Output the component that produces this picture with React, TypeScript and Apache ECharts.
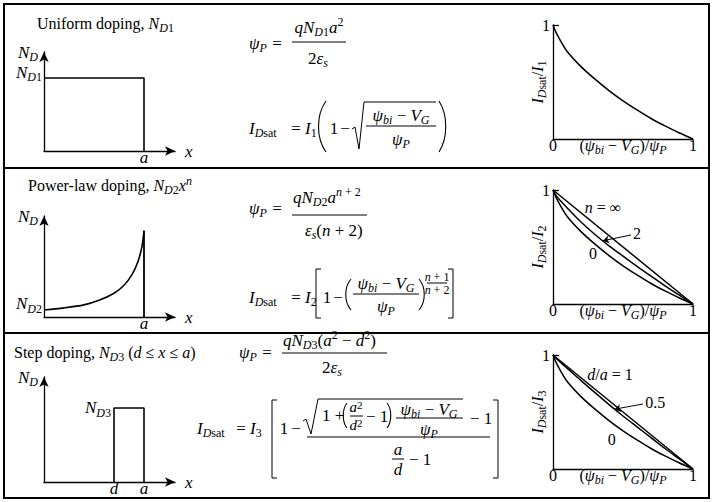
import React, { useEffect, useRef } from 'react';
import * as echarts from 'echarts';

const FF = '"Liberation Serif", "Times New Roman", Times, serif';

// ---------- doping-profile sketches (x in units of a, y relative to axis height) ----------
const uniformProfileX = [0, 1, 1];
const uniformProfileY = [0.737, 0.737, 0];
const powerProfileX = [0, 0.2, 0.4, 0.55, 0.7, 0.8, 0.88, 0.94, 0.98, 1];
const powerProfileY = [0.07, 0.09, 0.12, 0.165, 0.235, 0.315, 0.42, 0.55, 0.7, 0.855];
const powerEdgeX = [1, 1];
const powerEdgeY = [0.855, 0];
const stepProfileX = [0.7, 0.7, 1, 1];
const stepProfileY = [0, 0.705, 0.705, 0];

// ---------- normalized saturation-current curves ----------
const uRatio = [0, 0.02, 0.05, 0.1, 0.2, 0.3, 0.4, 0.5, 0.6, 0.7, 0.8, 0.9, 1];
const iUniform = [1, 0.94, 0.87, 0.77, 0.635, 0.525, 0.425, 0.335, 0.255, 0.18, 0.115, 0.055, 0];
const iPowerN2 = [1, 0.955, 0.91, 0.845, 0.72, 0.61, 0.51, 0.42, 0.33, 0.245, 0.16, 0.08, 0];
const iStepHalf = [1, 0.975, 0.94, 0.885, 0.775, 0.67, 0.565, 0.465, 0.37, 0.275, 0.18, 0.09, 0];
const linearU = [0, 1];
const linearI = [1, 0];

const zip = (xs: number[], ys: number[]) => xs.map((x, k) => [x, ys[k]]);

function richSet(F: number, useFill = false, Lh?: number) {
  const S = Math.round(F * 0.72);
  const L = Lh ?? F + 5;
  const col: any = useFill ? { fill: '#000' } : { color: '#000' };
  const base = { ...col, fontFamily: FF };
  return {
    r: { ...base, fontSize: F, lineHeight: L },
    i: { ...base, fontSize: F, fontStyle: 'italic', lineHeight: L },
    sr: { ...base, fontSize: S, lineHeight: S, verticalAlign: 'bottom' },
    si: { ...base, fontSize: S, fontStyle: 'italic', lineHeight: S, verticalAlign: 'bottom' },
    pr: { ...base, fontSize: S, lineHeight: S, verticalAlign: 'top' },
    pi: { ...base, fontSize: S, fontStyle: 'italic', lineHeight: S, verticalAlign: 'top' },
  };
}

function T(x: number, y: number, text: string, F = 17, align: string = 'left', Lh?: number) {
  return {
    type: 'text', x, y, silent: true,
    style: {
      text, rich: richSet(F, true, Lh), fill: '#000', fontFamily: FF, fontSize: F,
      align, verticalAlign: 'middle', textAlign: align, textVerticalAlign: 'middle',
    },
  };
}
function L(x1: number, y1: number, x2: number, y2: number, w = 1) {
  return { type: 'line', silent: true, shape: { x1, y1, x2, y2 }, style: { stroke: '#000', lineWidth: w } };
}
function P(points: number[][], w = 1) {
  return { type: 'polyline', silent: true, shape: { points }, style: { stroke: '#000', lineWidth: w, fill: 'none' } };
}
function B(x1: number, y1: number, cpx1: number, cpy1: number, cpx2: number, cpy2: number, x2: number, y2: number, w = 1.1) {
  return { type: 'bezierCurve', silent: true, shape: { x1, y1, cpx1, cpy1, cpx2, cpy2, x2, y2 }, style: { stroke: '#000', lineWidth: w, fill: 'none' } };
}

const PSI_NUM = '{i|ψ}{si|bi}{r| − }{i|V}{si|G}';
const PSI_P = '{i|ψ}{si|P}';
const IDSAT = '{i|I}{si|D}{sr|sat}';

const graphics: any[] = [
  // table frame
  { type: 'rect', silent: true, shape: { x: 4, y: 4, width: 705, height: 494 }, style: { stroke: '#000', lineWidth: 2, fill: 'none' } },
  L(4, 168, 709, 168, 2),
  L(4, 333, 709, 333, 2),
  // titles
  T(37, 23, '{r|Uniform doping, }{i|N}{si|D}{sr|1}', 16),
  T(28, 185, '{r|Power-law doping, }{i|N}{si|D}{sr|2}{i|x}{pi|n}', 16),
  T(14, 352, '{r|Step doping, }{i|N}{si|D}{sr|3}{r| (}{i|d}{r| ≤ }{i|x}{r| ≤ }{i|a}{r|)}', 16),

  // ----- row 1 equations -----
  T(249, 43, PSI_P),
  T(277, 43, '{r|=}', 17, 'center'),
  T(319, 27, '{i|qN}{si|D}{sr|1}{i|a}{pr|2}', 17, 'center'),
  L(292, 42, 346, 42),
  T(318, 58, '{r|2}{i|ε}{si|s}', 17, 'center'),
  T(249, 128, IDSAT),
  T(296, 128, '{r|=}', 17, 'center'),
  T(305, 128, '{i|I}{sr|1}'),
  B(326, 101, 316, 115, 316, 138, 326, 152),
  T(334, 128, '{r|1}', 17, 'center'),
  T(345, 128, '{r|−}', 17, 'center'),
  P([[352, 129], [355, 127], [359, 149], [364, 102], [436, 102]]),
  T(401, 115, PSI_NUM, 17, 'center'),
  L(366, 126, 436, 126),
  T(401, 139, PSI_P, 17, 'center'),
  B(439, 101, 448, 115, 448, 138, 439, 152),

  // ----- row 2 equations -----
  T(249, 208, PSI_P),
  T(277, 208, '{r|=}', 17, 'center'),
  T(293, 197, '{i|qN}{si|D}{sr|2}{i|a}{pi|n}{pr| + 2}'),
  L(292, 215, 367, 215),
  T(305, 230, '{i|ε}{si|s}{r|(}{i|n}{r| + 2)}'),
  T(249, 297, IDSAT),
  T(296, 297, '{r|=}', 17, 'center'),
  T(305, 297, '{i|I}{sr|2}'),
  P([[321, 269], [316, 269], [316, 318], [321, 318]]),
  T(327, 297, '{r|1}', 17, 'center'),
  T(338, 297, '{r|−}', 17, 'center'),
  B(351, 279, 344, 287, 344, 302, 351, 310),
  T(386, 283, PSI_NUM, 17, 'center'),
  L(353, 294, 419, 294),
  T(386, 306, PSI_P, 17, 'center'),
  B(419, 279, 426, 287, 426, 302, 419, 310),
  T(437, 277, '{i|n}{r| + 1}', 12, 'center', 12),
  L(427, 283, 447, 283),
  T(437, 290, '{i|n}{r| + 2}', 12, 'center', 12),
  P([[448, 269], [453, 269], [453, 318], [448, 318]]),

  // ----- row 3 equations -----
  T(239, 352, PSI_P),
  T(267, 352, '{r|=}', 17, 'center'),
  T(283, 340, '{i|qN}{si|D}{sr|3}{r|(}{i|a}{pr|2}{r| − }{i|d}{pr|2}{r|)}'),
  L(282, 353, 387, 353),
  T(322, 367, '{r|2}{i|ε}{si|s}'),
  T(197, 428, IDSAT),
  T(241, 428, '{r|=}', 17, 'center'),
  T(250, 428, '{i|I}{sr|3}'),
  P([[277, 400], [272, 400], [272, 478], [277, 478]]),
  T(284, 428, '{r|1}', 17, 'center'),
  T(296, 428, '{r|−}', 17, 'center'),
  P([[303, 421], [306, 419], [311, 434], [318, 399], [463, 399]]),
  T(322, 415, '{r|1 +}'),
  B(347, 403, 342, 409, 342, 422, 347, 428),
  T(356, 407, '{i|a}{pr|2}', 15, 'center', 16),
  L(350, 416, 363, 416),
  T(356, 425, '{i|d}{pr|2}', 15, 'center', 16),
  T(366, 416, '{r|− 1}'),
  B(387, 403, 392, 409, 392, 422, 387, 428),
  T(429, 409, PSI_NUM, 17, 'center'),
  L(396, 418, 463, 418),
  T(429, 429, PSI_P, 17, 'center'),
  T(470, 418, '{r|− 1}'),
  L(307, 437, 490, 437),
  T(398, 449, '{i|a}', 17, 'center', 17),
  L(392, 459, 404, 459),
  T(398, 469, '{i|d}', 17, 'center', 17),
  T(409, 459, '{r|− 1}'),
  P([[493, 400], [498, 400], [498, 478], [493, 478]]),
];

const R16 = richSet(16);
const R16s = richSet(16, false, 12);
const R17 = richSet(17);
const R17s = richSet(17, false, 12);

const sketchGrids = [
  { left: 44, top: 52, width: 131, height: 99 },
  { left: 44, top: 216, width: 131, height: 101 },
  { left: 44, top: 377, width: 131, height: 105 },
];
const plotGrids = [
  { left: 553, top: 25, width: 140, height: 114 },
  { left: 553, top: 190, width: 140, height: 114 },
  { left: 553, top: 355, width: 140, height: 114 },
];

const axisLineArrow = { show: true, onZero: false, symbol: ['none', 'arrow'], symbolSize: [7, 10], lineStyle: { color: '#000', width: 1.3 } };

function sketchX(gi: number, vals: number[], names: string[]) {
  return {
    type: 'value', gridIndex: gi, min: 0, max: 1.31,
    axisLine: axisLineArrow, axisTick: { show: false }, splitLine: { show: false },
    axisLabel: { show: true, customValues: vals, formatter: (v: number) => `{i|${names[vals.indexOf(v)] ?? ''}}`, rich: R17s, margin: 0 },
    name: 'x', nameLocation: 'end', nameGap: 10, nameMoveOverlap: false,
    nameTextStyle: { fontFamily: FF, fontStyle: 'italic', fontSize: 17, color: '#000', align: 'left', verticalAlign: 'middle' },
  };
}
function sketchY(gi: number, vals: number[], label: string) {
  return {
    type: 'value', gridIndex: gi, min: 0, max: 1,
    axisLine: axisLineArrow, axisTick: { show: false }, splitLine: { show: false },
    axisLabel: { show: vals.length > 0, customValues: vals, formatter: () => label, rich: R17, margin: 2, padding: [0, 0, 12, 0] },
    name: '{i|N}{si|D}', nameLocation: 'end', nameGap: 0, nameMoveOverlap: false,
    nameTextStyle: { rich: R17, align: 'right', verticalAlign: 'middle', padding: [0, 6, 0, 0] },
  };
}
function plotX(gi: number) {
  return {
    type: 'value', gridIndex: gi, min: 0, max: 1,
    axisLine: { show: true, onZero: false, lineStyle: { color: '#000', width: 1.3 } },
    axisTick: { show: false }, splitLine: { show: false },
    axisLabel: { show: true, customValues: [0, 1], formatter: (v: number) => `{r|${v}}`, rich: R16s, margin: 0 },
    name: '{r|(}' + PSI_NUM + '{r|)/}' + PSI_P, nameLocation: 'middle', nameGap: -4, nameMoveOverlap: false,
    nameTextStyle: { rich: R16, verticalAlign: 'top' },
  };
}
function plotY(gi: number, k: number) {
  return {
    type: 'value', gridIndex: gi, min: 0, max: 1,
    axisLine: { show: true, onZero: false, lineStyle: { color: '#000', width: 1.3 } },
    axisTick: { show: true, inside: true, customValues: [1], length: 6, lineStyle: { color: '#000', width: 1.3 } },
    splitLine: { show: false },
    axisLabel: { show: true, customValues: [1], formatter: () => '{r|1}', rich: R16, margin: 3 },
    name: IDSAT + `{r|/}{i|I}{sr|${k}}`, nameLocation: 'middle', nameRotate: 90, nameGap: 5, nameMoveOverlap: false,
    nameTextStyle: { rich: R16 },
  };
}

const blk = { color: '#000', width: 1.5 };
function lineSeries(gi: number, data: number[][], extra: any = {}) {
  return {
    type: 'line', xAxisIndex: gi, yAxisIndex: gi, data, showSymbol: false, symbol: 'none',
    lineStyle: blk, silent: true, ...extra,
  };
}
function tag(coord: number[], text: string, position: string = 'inside', rich: any = R16) {
  return {
    symbol: 'circle', symbolSize: 0, silent: true,
    label: { show: true, position, distance: 3, formatter: () => text, rich },
    data: [{ coord }],
  };
}
function leader(from: number[], to: number[]) {
  return {
    silent: true, symbol: ['none', 'arrow'], symbolSize: 6,
    lineStyle: { color: '#000', width: 1, type: 'solid' }, label: { show: false },
    data: [[{ coord: from }, { coord: to }]],
  };
}
const smoothCurve = { smooth: 0.3 };

const option: any = {
  animation: false,
  backgroundColor: '#fff',
  grid: [...sketchGrids, ...plotGrids].map((g) => ({ ...g, containLabel: false, outerBoundsMode: 'none' })),
  xAxis: [
    sketchX(0, [1], ['a']),
    sketchX(1, [1], ['a']),
    sketchX(2, [0.7, 1], ['d', 'a']),
    plotX(3), plotX(4), plotX(5),
  ],
  yAxis: [
    sketchY(0, [0.737], '{i|N}{si|D}{sr|1}'),
    sketchY(1, [0.07], '{i|N}{si|D}{sr|2}'),
    sketchY(2, [], ''),
    plotY(3, 1), plotY(4, 2), plotY(5, 3),
  ],
  series: [
    lineSeries(0, zip(uniformProfileX, uniformProfileY), { lineStyle: { color: '#000', width: 1.6 } }),
    lineSeries(1, zip(powerProfileX, powerProfileY), { ...smoothCurve, lineStyle: { color: '#000', width: 1.6 } }),
    lineSeries(1, zip(powerEdgeX, powerEdgeY), { lineStyle: { color: '#000', width: 1.8 } }),
    lineSeries(2, zip(stepProfileX, stepProfileY), {
      lineStyle: { color: '#000', width: 1.6 },
      markPoint: tag([0.7, 0.705], '{i|N}{si|D}{sr|3}', 'left', R17),
    }),
    lineSeries(3, zip(uRatio, iUniform), smoothCurve),
    lineSeries(4, zip(linearU, linearI), { markPoint: tag([0.357, 0.85], '{i|n}{r| = ∞}') }),
    lineSeries(4, zip(uRatio, iPowerN2), { ...smoothCurve, markPoint: tag([0.6, 0.62], '{r|2}'), markLine: leader([0.557, 0.605], [0.357, 0.555]) }),
    lineSeries(4, zip(uRatio, iUniform), { ...smoothCurve, markPoint: tag([0.286, 0.44], '{r|0}') }),
    lineSeries(5, zip(linearU, linearI), { markPoint: tag([0.407, 0.825], '{i|d}{r|/}{i|a}{r| = 1}') }),
    lineSeries(5, zip(uRatio, iStepHalf), { ...smoothCurve, markPoint: tag([0.73, 0.58], '{r|0.5}'), markLine: leader([0.643, 0.57], [0.44, 0.525]) }),
    lineSeries(5, zip(uRatio, iUniform), { ...smoothCurve, markPoint: tag([0.42, 0.26], '{r|0}') }),
  ],
  graphic: { elements: graphics },
};

export default function App() {
  const ref = useRef<HTMLDivElement>(null);
  useEffect(() => {
    document.body.style.margin = '0';
    const chart = echarts.init(ref.current as HTMLDivElement, null, { renderer: 'svg', width: 713, height: 502 });
    chart.setOption(option);
    return () => chart.dispose();
  }, []);
  return <div ref={ref} style={{ width: 713, height: 502, background: '#fff' }} />;
}
